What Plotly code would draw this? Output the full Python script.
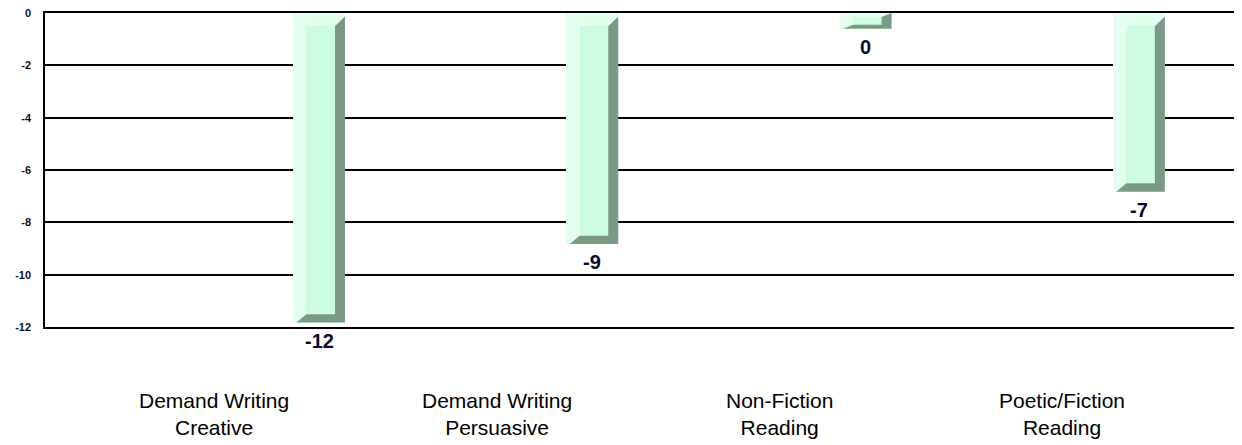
import plotly.graph_objects as go

# ---- data ----
categories = ["Demand Writing<br>Creative", "Demand Writing<br>Persuasive",
              "Non-Fiction<br>Reading", "Poetic/Fiction<br>Reading"]
values = [-12, -9, 0, -7]
y_tick_values = [0, -2, -4, -6, -8, -10, -12]
y_tick_labels = ["0", "-2", "-4", "-6", "-8", "-10", "-12"]

# ---- style ----
FONT = "Arial, Liberation Sans, sans-serif"
LIGHT = "#e3fff0"
FACE = "#ccfde0"
DARK = "#7b9a86"
BAR_W = 0.19
DXL, DXR = 0.049, 0.0366
DYT, DYB = 0.51, 0.32
INSET = 0.17
MIN_SLAB = 0.6
BAR_OFFSET = 0.0          # bars sit at the category index
LABEL_STEP, LABEL_SHIFT = 1.034, -0.384

fig = go.Figure()

xs, bottoms, inner_x, inner_base, inner_len = [], [], [], [], []
polys = []
for i, v in enumerate(values):
    c = i + BAR_OFFSET
    vb = min(v + INSET, -MIN_SLAB)
    dyt, dyb = DYT, DYB
    if -vb < 1.5:
        dyt = dyb = -vb * 0.25
    L, R = c - BAR_W / 2, c + BAR_W / 2
    xs.append(c)
    bottoms.append(vb)
    inner_x.append(c + (DXL - DXR) / 2)
    inner_base.append(-dyt)
    inner_len.append(vb + dyb + dyt)
    slant = min(0.38, dyt)
    px = [R - DXR, R, R, L + 0.012, L + DXL, R - DXR, R - DXR]
    py = [-dyt, -dyt + slant, vb, vb, vb + dyb, vb + dyb, -dyt]
    polys.append((px, py))

fig.add_trace(go.Bar(x=xs, y=bottoms, base=0, width=BAR_W,
                     marker=dict(color=LIGHT, line=dict(width=0)),
                     hoverinfo="skip", showlegend=False))
fig.add_trace(go.Bar(x=inner_x, y=inner_len, base=inner_base,
                     width=BAR_W - DXL - DXR,
                     marker=dict(color=FACE, line=dict(width=0)),
                     hoverinfo="skip", showlegend=False))
for px, py in polys:
    fig.add_trace(go.Scatter(x=px, y=py, mode="lines", fill="toself",
                             fillcolor=DARK, line=dict(width=0, color=DARK),
                             hoverinfo="skip", showlegend=False))

annotations = []
for i, v in enumerate(values):
    annotations.append(dict(x=xs[i], y=bottoms[i], xref="x", yref="y",
                            text=str(v), showarrow=False, yanchor="middle",
                            yshift=-18,
                            font=dict(family=FONT, size=20, color="#0a0a30",
                                      weight="bold")))
for i, cat in enumerate(categories):
    annotations.append(dict(x=i * LABEL_STEP + LABEL_SHIFT, y=-0.277,
                            xref="x", yref="paper", text=cat, showarrow=False,
                            xanchor="center", yanchor="middle",
                            font=dict(family=FONT, size=21, color="#000000")))

fig.update_layout(
    width=1242, height=445, autosize=False,
    margin=dict(l=37, r=8, t=5, b=126, autoexpand=False),
    paper_bgcolor="white", plot_bgcolor="white",
    barmode="overlay", bargap=0,
    annotations=annotations,
    xaxis=dict(range=[-1.0026, 3.3772], showticklabels=False, showgrid=False,
               zeroline=False, showline=True, mirror=True, linecolor="black",
               linewidth=1.5, ticks="", automargin=False),
    yaxis=dict(range=[-12, 0], tickvals=y_tick_values, ticktext=y_tick_labels,
               showgrid=True, gridcolor="black", gridwidth=1.5, zeroline=False,
               showline=True, linecolor="black", linewidth=1.5, ticks="",
               ticklabelstandoff=10, automargin=False,
               ticklabeloverflow="allow",
               tickfont=dict(family=FONT, size=11, color="#111111",
                             weight="bold")),
)

fig.write_html("out.html")
